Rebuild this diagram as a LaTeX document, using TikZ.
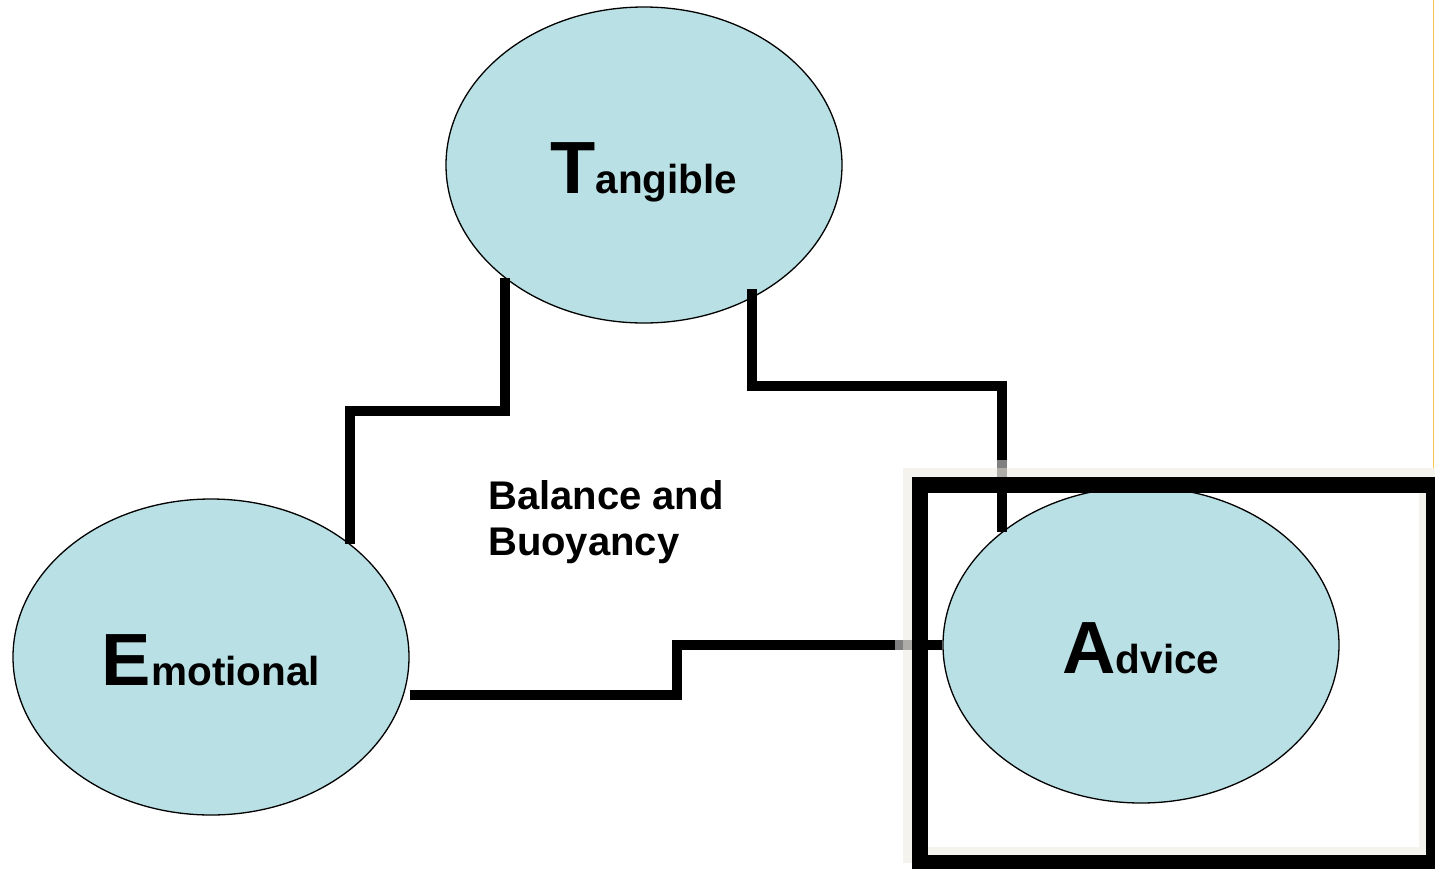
\documentclass[tikz,border=0pt]{standalone}
\usepackage{fontspec}
\setmainfont{Liberation Sans}
\usetikzlibrary{shapes.geometric}
\definecolor{bubblefill}{RGB}{185,224,228}
\definecolor{haze}{RGB}{240,239,232}
\definecolor{gold}{RGB}{247,200,80}
% large initial followed by the rest of the word in a smaller size
\newcommand\capword[2]{{\fontsize{74}{80}\selectfont #1}{\fontsize{40.5}{46}\selectfont #2}}

\begin{document}
\begin{tikzpicture}[x=1pt,y=-1pt,
  bubblenode/.style={ellipse, draw=black, line width=1.3pt, fill=bubblefill,
    minimum width=396pt, minimum height=316pt, inner sep=0pt,
    text height=56pt, text depth=0pt, font=\bfseries},
  link/.style={line width=10pt, line cap=butt, line join=miter},
  caption/.style={anchor=base west, align=left, inner sep=0pt,
    font=\bfseries\fontsize{40}{46}\selectfont},
]
\useasboundingbox (0,0) rectangle (1435,868);
\fill[white] (0,0) rectangle (1435,868);

% the three areas
\node[bubblenode] (T) at (644,165) {\capword{T}{angible}};
\node[bubblenode] (E) at (211,657) {\capword{E}{motional}};
\node[bubblenode] (A) at (1141,645) {\capword{A}{dvice}};

% stepped links between the areas
\draw[link] (T.219) -- ++(0,133.5) -| (E.39);
\draw[link] ([yshift=9pt]T.309.5) -- ++(0,97) -| (A.141.4);
\draw[link] ([yshift=-38pt]E.east) -- ++(267,0) |- (A.west);

% caption; the base anchor sits on the second line
\node[caption] (bb) at (488,555) {Balance and\\Buoyancy};

% highlight frame around Advice, with its pale offset copy and soft edge
\draw[white, opacity=0.5, line width=8pt] (899,464) rectangle (1445,880);
\draw[haze, opacity=0.72, line width=16pt] (911,476) rectangle (1427,855);
\draw[black, line width=16pt] (920,485) rectangle (1434,863);

% thin rule along the right edge
\draw[gold, line width=1.5pt] (1433.5,0) -- (1433.5,468);
\end{tikzpicture}
\end{document}
